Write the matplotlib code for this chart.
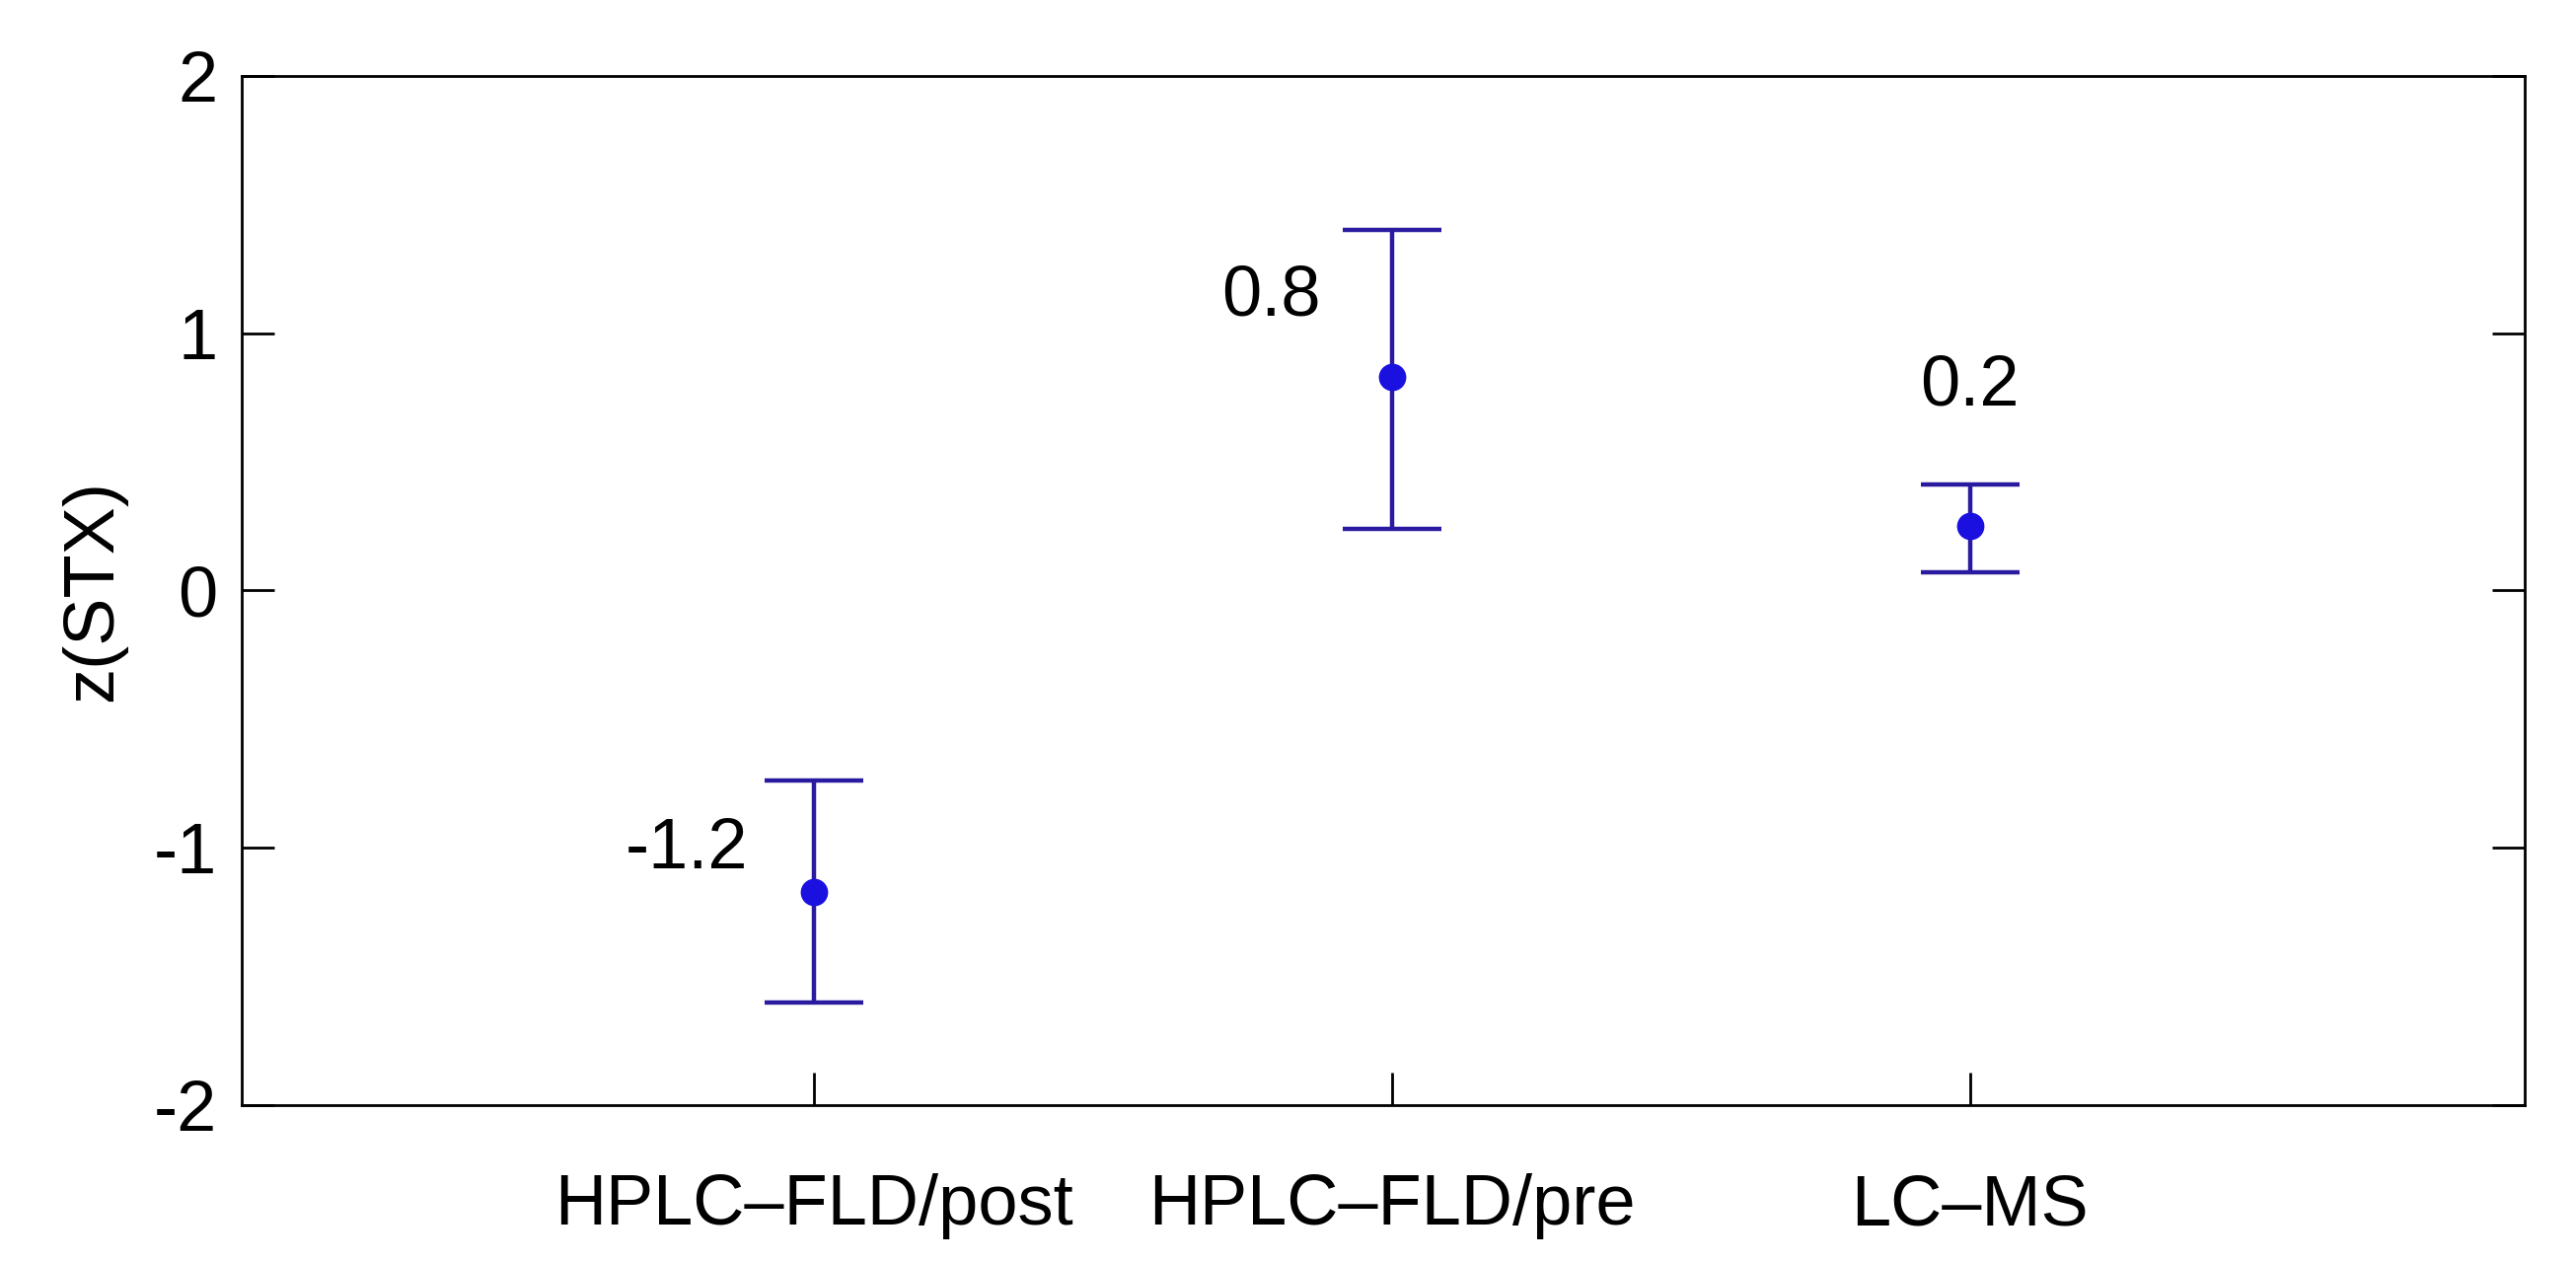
import matplotlib
matplotlib.use("Agg")
import matplotlib.pyplot as plt

methods = ["HPLC\u2013FLD/post", "HPLC\u2013FLD/pre", "LC\u2013MS"]
z_mean = [-1.17, 0.83, 0.25]
z_low = [-1.60, 0.24, 0.07]
z_high = [-0.74, 1.40, 0.41]
labels = ["-1.2", "0.8", "0.2"]
label_pos = [(0.78, -1.01), (1.79, 1.14), (3.0, 0.79)]

plt.rcParams['font.family'] = ['Liberation Sans', 'DejaVu Sans']

fig = plt.figure(figsize=(26.11, 12.80), dpi=100)
ax = fig.add_axes([0.094, 0.125, 0.886, 0.815])

xs = [1, 2, 3]
yerr = [[m - lo for m, lo in zip(z_mean, z_low)], [hi - m for m, hi in zip(z_mean, z_high)]]
ax.errorbar(xs, z_mean, yerr=yerr, fmt='none', ecolor='#2a1aa0', elinewidth=3.2,
            capsize=36, capthick=3.2)
ax.plot(xs, z_mean, 'o', color='#1a10e0', markersize=19)

for t, (tx, ty) in zip(labels, label_pos):
    ax.text(tx, ty, t, fontsize=52, ha='center', va='center')

ax.set_xlim(0.01, 3.96)
ax.set_ylim(-2, 2)
ax.set_xticks(xs)
ax.set_xticklabels(methods)
ax.set_yticks([-2, -1, 0, 1, 2])
ax.set_yticklabels(["-2", "-1", "0", "1", "2"])
ax.set_ylabel("z(STX)", fontsize=52, labelpad=20)
ax.tick_params(axis='both', direction='in', labelsize=52, length=24, width=2, pad=18, right=True)
ax.tick_params(axis='x', pad=50)
for s in ax.spines.values():
    s.set_linewidth(2)

fig.savefig("out.png", dpi=100)
